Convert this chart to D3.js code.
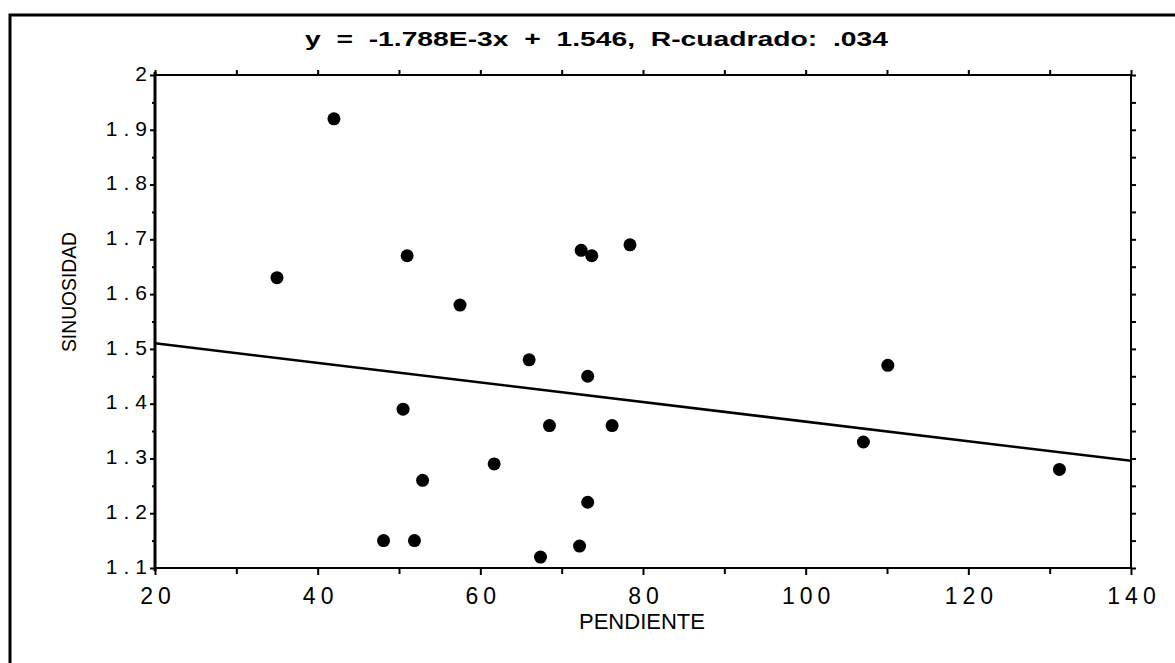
<!DOCTYPE html>
<html>
<head>
<meta charset="utf-8">
<script src="https://cdn.jsdelivr.net/npm/d3@7"></script>
<style>
  body { margin: 0; background: #fff; }
  svg { display: block; }
  text { font-family: "Liberation Sans", Arial, sans-serif; fill: #000; }
</style>
</head>
<body>
<div class="chart"></div>
<script>
(function() {

// values
  var pendiente = [42, 35, 51, 72.4, 73.7, 78.4, 57.5, 66, 73.2, 50.5, 68.5,
                   76.2, 61.7, 52.9, 73.2, 48.1, 51.9, 67.4, 72.2, 110.1, 107.1, 131.2];
  var sinuosidad = [1.92, 1.63, 1.67, 1.68, 1.67, 1.69, 1.58, 1.48, 1.45, 1.39, 1.36,
                    1.36, 1.29, 1.26, 1.22, 1.15, 1.15, 1.12, 1.14, 1.47, 1.33, 1.28];
  var xTicks = [20, 40, 60, 80, 100, 120, 140];
  var yTicks = [1.1, 1.2, 1.3, 1.4, 1.5, 1.6, 1.7, 1.8, 1.9, 2];
  var xMinor = [30, 50, 70, 90, 110, 130];
  var yMinor = [1.15, 1.25, 1.35, 1.45, 1.55, 1.65, 1.75, 1.85, 1.95];
  var slope = -1.788e-3, intercept = 1.546;
  var titulo = 'y  =  -1.788E-3x  +  1.546,  R-cuadrado:  .034';

  var width = 1175, height = 663;
  var left = 155, right = 1131, top = 75, bottom = 568;

  var svg = d3.select('.chart')
    .append('svg')
    .attr('width', width)
    .attr('height', height);

  var x = d3.scaleLinear().domain([20, 140]).range([left, right]);
  var y = d3.scaleLinear().domain([1.1, 2]).range([bottom, top]);

// outer page frame
  svg.append('path')
    .attr('d', 'M10,663 L10,15 L1175,15')
    .attr('fill', 'none')
    .attr('stroke', '#000')
    .attr('stroke-width', 3);

// title
  svg.append('text')
    .attr('x', 305)
    .attr('y', 46)
    .attr('textLength', 583)
    .attr('lengthAdjust', 'spacingAndGlyphs')
    .style('white-space', 'pre')
    .style('font-size', '20px')
    .style('font-weight', 'bold')
    .text(titulo);

  var styleAxis = function(g, w) {
    g.select('.domain').remove();
    g.selectAll('line').attr('stroke', '#000').attr('stroke-width', w);
  };

// bottom axis
  svg.append('g')
    .attr('transform', 'translate(0,' + bottom + ')')
    .call(d3.axisBottom(x).tickValues(xTicks).tickSize(7).tickPadding(13)
      .tickFormat(d3.format('d')))
    .call(styleAxis, 2)
    .selectAll('text')
    .style('font-size', '23px')
    .style('letter-spacing', '5px')
    .attr('dx', '2.5px');

  svg.append('g')
    .attr('transform', 'translate(0,' + bottom + ')')
    .call(d3.axisBottom(x).tickValues(xMinor).tickSize(6).tickFormat(''))
    .call(styleAxis, 2);

// top axis ticks
  svg.append('g')
    .attr('transform', 'translate(0,' + top + ')')
    .call(d3.axisTop(x).tickValues(xTicks.concat(xMinor)).tickSize(5).tickFormat(''))
    .call(styleAxis, 2);

// left axis
  svg.append('g')
    .attr('transform', 'translate(' + left + ',0)')
    .call(d3.axisLeft(y).tickValues(yTicks).tickSize(5).tickPadding(3)
      .tickFormat(function(d) { return d === 2 ? '2' : d3.format('.1f')(d); }))
    .call(styleAxis, 2)
    .selectAll('text')
    .style('font-size', '21px')
    .style('letter-spacing', '6px')
    .attr('dx', '6px')
    .attr('dy', '0.25em');

  svg.append('g')
    .attr('transform', 'translate(' + left + ',0)')
    .call(d3.axisLeft(y).tickValues(yMinor).tickSize(3).tickFormat(''))
    .call(styleAxis, 2);

// right axis ticks
  svg.append('g')
    .attr('transform', 'translate(' + right + ',0)')
    .call(d3.axisRight(y).tickValues(yTicks.concat(yMinor)).tickSize(5).tickFormat(''))
    .call(styleAxis, 2);

// plot frame
  svg.append('rect')
    .attr('x', left)
    .attr('y', top)
    .attr('width', right - left)
    .attr('height', bottom - top)
    .attr('fill', 'none')
    .attr('stroke', '#000')
    .attr('stroke-width', 2);

  svg.append('line')
    .attr('x1', left).attr('x2', left)
    .attr('y1', top - 3).attr('y2', bottom + 3)
    .attr('stroke', '#000')
    .attr('stroke-width', 3);

// regression line
  var fit = [20, 140];
  svg.append('path')
    .datum(fit)
    .attr('d', d3.line()
      .x(function(d) { return x(d); })
      .y(function(d) { return y(intercept + slope * d); }))
    .attr('fill', 'none')
    .attr('stroke', '#000')
    .attr('stroke-width', 2.5);

// points
  svg.selectAll('circle')
    .data(d3.range(pendiente.length))
    .enter()
    .append('circle')
    .attr('cx', function(i) { return x(pendiente[i]); })
    .attr('cy', function(i) { return y(sinuosidad[i]); })
    .attr('r', 6.5)
    .attr('fill', '#000');

// axis titles
  svg.append('text')
    .attr('x', 642)
    .attr('y', 629)
    .attr('text-anchor', 'middle')
    .attr('textLength', 126)
    .attr('lengthAdjust', 'spacingAndGlyphs')
    .style('font-size', '22px')
    .text('PENDIENTE');

  svg.append('text')
    .attr('transform', 'translate(76,292) rotate(-90)')
    .attr('text-anchor', 'middle')
    .attr('textLength', 120)
    .attr('lengthAdjust', 'spacingAndGlyphs')
    .style('font-size', '21px')
    .text('SINUOSIDAD');

})();
</script>
</body>
</html>
